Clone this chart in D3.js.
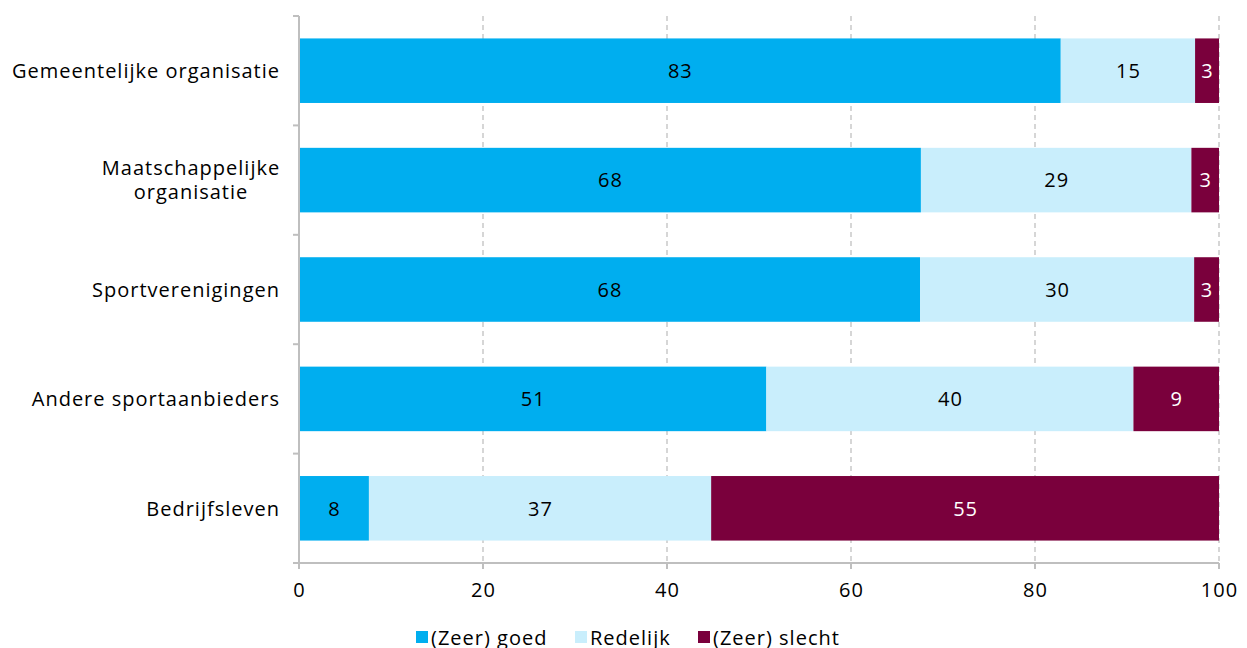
<!DOCTYPE html>
<html><head><meta charset="utf-8">
<script src="https://cdn.jsdelivr.net/npm/d3@7"></script>
<style>body{margin:0;background:#fff;overflow:hidden}svg{display:block}text{font-family:"Open Sans",sans-serif;letter-spacing:1px}</style>
</head><body><svg id="c" width="1247" height="648"></svg>
<script>
const categories = ["Gemeentelijke organisatie","Maatschappelijke organisatie","Sportverenigingen","Andere sportaanbieders","Bedrijfsleven"];
const categoryLines = [["Gemeentelijke organisatie"],["Maatschappelijke","organisatie"],["Sportverenigingen"],["Andere sportaanbieders"],["Bedrijfsleven"]];
const seriesNames = ["(Zeer) goed","Redelijk","(Zeer) slecht"];
const goed = [82.8, 67.6, 67.5, 50.8, 7.6];
const redelijk = [14.6, 29.4, 29.8, 39.9, 37.2];
const slecht = [2.6, 3.0, 2.7, 9.3, 55.2];
const xTicks = [0,20,40,60,80,100];
const colors = ["#00AEEF","#C9EEFC","#7A003C"];
const labelColors = ["#000","#000","#fff"];
const FS = 20;

const svg = d3.select("#c");
const m = {left:299, right:1219, top:16, bottom:563};
const x = d3.scaleLinear().domain([0,100]).range([m.left,m.right]);
const y = d3.scaleBand().domain(categories).range([m.top,m.bottom]).paddingInner(0.41).paddingOuter(0.205);

const rows = categories.map((c,i)=>({cat:c, "(Zeer) goed":goed[i], "Redelijk":redelijk[i], "(Zeer) slecht":slecht[i]}));
const stacked = d3.stack().keys(seriesNames)(rows);

svg.append("g").selectAll("line").data(xTicks.filter(t=>t>0)).join("line")
  .attr("x1",d=>x(d)).attr("x2",d=>x(d)).attr("y1",m.top).attr("y2",m.bottom)
  .attr("stroke","#c0c0c0").attr("stroke-width",1.3).attr("stroke-dasharray","5,4");

stacked.forEach((s,si)=>{
  const g = svg.append("g");
  g.selectAll("rect").data(s).join("rect")
    .attr("x",d=>x(d[0])).attr("width",d=>x(d[1])-x(d[0]))
    .attr("y",d=>y(d.data.cat)).attr("height",y.bandwidth())
    .attr("fill",colors[si]);
  g.selectAll("text").data(s).join("text")
    .attr("x",d=>(x(d[0])+x(d[1]))/2+0.5).attr("y",d=>y(d.data.cat)+y.bandwidth()/2)
    .attr("dy","0.36em").attr("text-anchor","middle")
    .attr("font-size",FS).attr("fill",labelColors[si])
    .text(d=>Math.round(d[1]-d[0]));
});

const ya = svg.append("g");
ya.append("line").attr("x1",m.left).attr("x2",m.left).attr("y1",m.top).attr("y2",m.bottom+6).attr("stroke","#bfbfbf").attr("stroke-width",2);
const bounds = d3.range(categories.length+1).map(i=>m.top+i*(m.bottom-m.top)/categories.length);
ya.selectAll(".tk").data(bounds).join("line").attr("x1",m.left-6).attr("x2",m.left).attr("y1",d=>d).attr("y2",d=>d).attr("stroke","#bfbfbf").attr("stroke-width",2);
categoryLines.forEach((lines,i)=>{
  const cy = y(categories[i])+y.bandwidth()/2;
  const t = ya.append("text").attr("text-anchor", lines.length>1 ? "middle" : "end").attr("font-size",FS).attr("fill","#000");
  lines.forEach((ln,j)=>{
    t.append("tspan").attr("x", lines.length>1 ? 191 : 280).attr("y", cy + (j-(lines.length-1)/2)*24).attr("dy","0.36em").text(ln);
  });
});

const xa = svg.append("g");
xa.append("line").attr("x1",m.left-6).attr("x2",m.right).attr("y1",m.bottom).attr("y2",m.bottom).attr("stroke","#bfbfbf").attr("stroke-width",2);
xa.selectAll(".tk").data(xTicks).join("line").attr("x1",d=>x(d)).attr("x2",d=>x(d)).attr("y1",m.bottom).attr("y2",m.bottom+6).attr("stroke","#bfbfbf").attr("stroke-width",2);
xa.selectAll("text").data(xTicks).join("text").attr("x",d=>x(d)+0.5).attr("y",590).attr("dy","0.36em")
  .attr("text-anchor","middle").attr("font-size",FS).text(d=>d);

const legX = [416, 575, 698];
const lg = svg.append("g");
seriesNames.forEach((n,i)=>{
  lg.append("rect").attr("x",legX[i]).attr("y",631).attr("width",12).attr("height",12).attr("fill",colors[i]);
  lg.append("text").attr("x",legX[i]+15).attr("y",645).attr("font-size",FS).text(n);
});
</script></body></html>
